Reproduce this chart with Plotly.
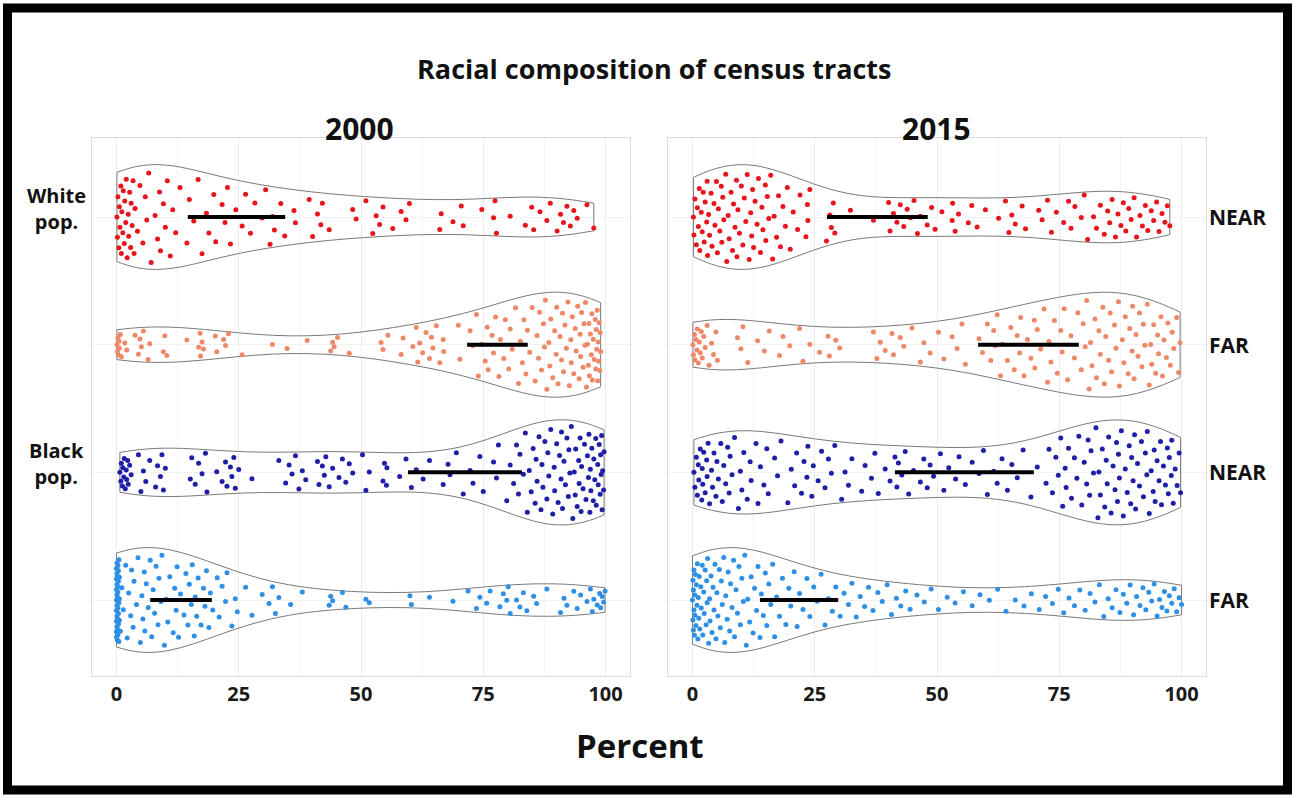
import numpy as np
import plotly.graph_objects as go

# ---------------- data (percent values) ----------------
groups = ["White NEAR", "White FAR", "Black NEAR", "Black FAR"]
years = ["2000", "2015"]

w00_near = [0.1, 0.2, 0.3, 0.5, 0.6, 0.7, 0.9, 1.0, 1.1, 1.3, 1.4, 1.6, 1.7, 1.9, 2.0, 2.2, 2.4, 2.5,
            2.7, 2.9, 3.0, 3.2, 3.4, 3.6, 3.8, 4.3, 4.8, 5.4, 5.9, 6.2, 6.6, 7.1, 7.9, 8.4, 8.8, 9.0,
            9.6, 10.0, 10.4, 11.0, 11.5, 12.1, 13.0, 14.4, 14.9, 15.8, 16.7, 17.5, 18.4, 18.9, 19.9,
            20.3, 21.6, 22.2, 22.7, 23.3, 24.4, 25.7, 26.4, 27.4, 28.3, 29.8, 30.5, 31.4, 31.9, 32.3,
            33.6, 34.4, 36.3, 36.6, 39.4, 40.1, 41.1, 41.8, 42.1, 43.5, 48.3, 49.0, 51.0, 52.4, 53.1,
            53.8, 54.5, 56.5, 58.2, 59.2, 59.9, 66.1, 66.4, 68.8, 70.5, 70.9, 74.7, 77.1, 77.4, 77.7,
            80.5, 83.6, 84.9, 85.3, 86.6, 88.0, 88.7, 90.1, 90.8, 91.4, 92.1, 92.8, 93.5, 94.2, 96.2,
            97.6]

w00_far = [0.1, 0.2, 0.3, 0.4, 0.5, 0.6, 0.8, 1.0, 1.7, 2.1, 3.8, 4.5, 4.8, 5.1, 5.5, 6.5, 6.8,
           9.6, 9.9, 10.3, 14.4, 16.8, 17.1, 17.2, 17.5, 17.8, 20.2, 20.5, 21.9, 22.3, 22.9, 25.7,
           31.9, 34.9, 39.0, 43.8, 44.2, 44.5, 45.2, 47.6, 54.1, 54.5, 55.5, 58.2, 58.6, 60.6, 61.3,
           61.6, 62.0, 62.6, 63.3, 64.0, 64.4, 64.7, 65.4, 66.1, 66.8, 66.9, 69.9, 70.2, 72.3, 72.9,
           73.6, 74.0, 74.7, 75.4, 75.8, 76.0, 76.8, 77.1, 77.5, 78.2, 78.5, 79.2, 79.5, 80.2, 80.5,
           80.9, 81.6, 82.2, 82.6, 83.0, 83.3, 83.7, 84.0, 84.5, 85.0, 85.6, 86.0, 86.3, 86.5, 86.9,
           87.3, 87.5, 87.7, 88.0, 88.4, 88.6, 88.8, 89.2, 89.6, 89.9, 90.0, 90.3, 90.7, 91.0, 91.2,
           91.4, 91.7, 92.0, 92.3, 92.6, 92.9, 93.0, 93.2, 93.5, 93.8, 94.0, 94.3, 94.6, 94.8, 94.9,
           95.1, 95.4, 95.6, 95.8, 95.9, 96.1, 96.3, 96.5, 96.6, 96.7, 96.9, 97.1, 97.2, 97.3, 97.5,
           97.7, 97.9, 98.0, 98.1, 98.2, 98.3, 98.4, 98.5, 98.6, 98.7, 98.8, 98.9, 99.0]

b00_near = [0.7, 0.9, 1.0, 1.2, 1.3, 1.5, 1.6, 1.8, 2.0, 2.1, 2.3, 2.4, 2.7, 3.0, 4.5, 5.0, 5.5, 6.0,
            6.8, 8.0, 8.4, 9.0, 9.3, 9.6, 10.0, 15.1, 15.4, 16.1, 16.8, 17.5, 18.2, 18.5, 20.5, 21.6,
            22.3, 22.6, 23.3, 23.6, 24.0, 24.3, 25.0, 27.7, 33.2, 34.6, 35.3, 35.9, 36.6, 37.3, 38.0,
            38.7, 41.1, 41.4, 42.1, 42.5, 42.8, 43.5, 44.2, 45.5, 46.2, 46.9, 47.6, 48.3, 50.3, 51.0,
            51.7, 54.5, 54.8, 55.2, 55.3, 57.9, 59.2, 60.3, 61.3, 62.7, 64.0, 66.8, 67.8, 68.2, 69.5,
            70.9, 72.3, 72.9, 74.3, 75.0, 77.1, 77.7, 78.1, 79.8, 80.5, 81.2, 81.8, 82.2, 82.5, 83.2,
            83.6, 84.0, 84.4, 84.8, 85.2, 85.6, 85.8, 86.0, 86.4, 86.8, 87.0, 87.2, 87.6, 88.0, 88.2,
            88.4, 88.8, 89.2, 89.5, 89.6, 90.0, 90.3, 90.6, 90.9, 91.0, 91.2, 91.5, 91.8, 92.1, 92.4,
            92.5, 92.7, 93.0, 93.3, 93.6, 93.8, 93.9, 94.2, 94.5, 94.6, 94.8, 95.0, 95.1, 95.4, 95.7,
            96.0, 96.3, 96.5, 96.6, 96.8, 96.9, 97.0, 97.2, 97.5, 97.6, 97.8, 98.0, 98.1, 98.4, 98.5,
            98.7, 98.9, 99.0, 99.1, 99.2, 99.3, 99.4, 99.6, 99.7]

b00_far = [0.0, 0.0, 0.0, 0.0, 0.0, 0.0, 0.0, 0.0, 0.1, 0.1, 0.1, 0.1, 0.1, 0.1, 0.1, 0.2, 0.2, 0.2,
           0.2, 0.2, 0.3, 0.3, 0.3, 0.3, 0.3, 0.4, 0.4, 0.4, 0.4, 0.5, 0.5, 0.5, 0.6, 0.6, 0.6,
           0.8, 1.1, 1.4, 1.9, 2.2, 2.5, 2.9, 3.1, 3.4, 3.6, 4.1, 4.4, 4.9, 5.2, 5.4, 5.7, 5.8, 6.1,
           6.5, 6.9, 7.2, 7.5, 7.8, 8.1, 8.5, 8.7, 9.1, 9.3, 9.8, 10.2, 10.5, 10.9, 11.6, 11.9, 12.2,
           12.4, 12.7, 13.1, 13.8, 14.2, 14.6, 14.9, 15.3, 15.5, 15.9, 16.1, 16.4, 16.7, 17.3, 17.8,
           18.1, 18.4, 18.9, 19.2, 19.7, 20.6, 21.0, 21.6, 22.3, 22.6, 23.6, 24.3, 24.7, 26.4, 27.7,
           29.8, 31.2, 31.9, 32.5, 33.2, 35.6, 38.0, 43.5, 43.8, 44.2, 46.2, 46.9, 51.0, 51.7, 60.0,
           60.3, 64.0, 68.8, 71.9, 73.6, 74.3, 75.7, 76.4, 78.4, 79.1, 79.8, 80.1, 80.5, 81.8, 82.5,
           83.2, 83.9, 85.3, 85.9, 88.0, 90.8, 91.5, 92.1, 93.5, 94.2, 94.9, 96.2, 96.9, 97.3, 97.6,
           98.3, 98.8, 99.0, 99.3, 99.6, 99.9]

w15_near = [0.2, 0.3, 0.5, 0.8, 1.0, 1.2, 1.4, 1.5, 1.8, 2.0, 2.2, 2.4, 2.6, 2.9, 3.0, 3.1, 3.3, 3.5,
            3.8, 4.0, 4.4, 4.6, 4.9, 5.1, 5.3, 5.6, 5.9, 6.0, 6.2, 6.4, 6.8, 7.0, 7.3, 7.5, 7.9, 8.2,
            8.4, 8.7, 9.0, 9.1, 9.3, 9.6, 10.0, 10.3, 10.6, 10.9, 11.2, 11.6, 11.9, 12.1, 12.3, 12.5,
            12.8, 13.2, 13.5, 13.9, 14.2, 14.4, 14.9, 15.0, 15.3, 15.6, 16.0, 16.4, 16.7, 17.2, 17.6,
            18.0, 18.5, 19.0, 19.4, 20.0, 20.6, 21.5, 22.0, 23.2, 23.5, 23.6, 24.0, 27.4, 28.1, 28.4,
            28.8, 29.1, 32.3, 37.0, 40.1, 40.4, 41.1, 41.8, 42.5, 43.2, 43.9, 44.6, 45.3, 46.0, 46.6,
            48.0, 48.9, 49.6, 51.0, 53.1, 53.2, 53.7, 54.4, 56.4, 57.1, 58.2, 59.9, 62.6, 64.0, 64.7,
            65.3, 66.0, 67.4, 68.1, 70.8, 71.5, 72.6, 73.4, 74.4, 75.9, 76.9, 77.4, 78.2, 79.5, 80.1,
            80.8, 82.0, 82.6, 83.4, 84.2, 84.9, 85.3, 85.8, 86.5, 87.0, 87.6, 88.1, 88.6, 89.2, 89.7,
            90.3, 90.8, 91.5, 92.0, 92.6, 93.1, 93.8, 94.3, 94.9, 95.4, 96.0, 96.6, 97.1, 97.6]

w15_far = [0.1, 0.2, 0.4, 0.5, 0.7, 0.9, 1.0, 1.2, 1.4, 1.6, 1.8, 2.0, 2.3, 2.6, 3.0, 3.4, 3.9, 4.3,
           4.8, 5.1, 9.2, 9.9, 10.3, 11.3, 13.3, 14.7, 15.7, 17.8, 18.5, 19.9, 21.9, 22.6, 24.0, 26.0,
           27.7, 28.0, 29.3, 30.1, 37.0, 37.7, 38.4, 39.4, 40.8, 41.1, 42.5, 43.2, 44.9, 46.6, 47.3,
           48.6, 50.3, 51.4, 53.1, 54.1, 55.1, 55.8, 58.6, 59.3, 60.3, 61.0, 61.6, 61.9, 62.3, 63.0,
           63.4, 64.4, 65.1, 65.8, 66.4, 66.9, 67.1, 67.8, 68.5, 69.2, 69.9, 70.0, 70.5, 71.2, 71.9,
           72.6, 72.9, 73.3, 74.0, 74.6, 75.3, 75.6, 76.0, 76.7, 77.4, 78.1, 78.8, 79.5, 79.9, 80.3,
           80.6, 81.1, 81.4, 81.7, 82.3, 82.6, 83.1, 83.4, 83.9, 84.2, 84.5, 85.1, 85.4, 85.7, 86.3,
           86.6, 87.1, 87.3, 87.9, 88.2, 88.5, 89.1, 89.4, 89.9, 90.0, 90.3, 90.7, 91.1, 91.4, 91.9,
           92.2, 92.5, 93.0, 93.4, 93.7, 93.9, 94.3, 94.7, 95.1, 95.3, 95.8, 96.1, 96.4, 96.9, 97.2,
           97.7, 98.1, 98.4, 99.0, 99.4, 99.7]

b15_near = [0.3, 0.5, 0.8, 1.0, 1.2, 1.3, 1.6, 1.9, 2.0, 2.1, 2.3, 2.6, 2.9, 3.0, 3.2, 3.5, 3.9, 4.1,
            4.4, 4.8, 5.0, 5.3, 5.8, 6.1, 6.4, 6.8, 7.2, 7.5, 7.7, 8.1, 8.6, 9.4, 9.8, 10.1, 10.5,
            11.2, 11.8, 12.0, 13.0, 13.4, 13.9, 14.6, 15.2, 15.5, 16.8, 17.4, 18.1, 19.5, 20.2, 20.9,
            21.3, 22.3, 22.8, 23.4, 23.6, 24.4, 24.7, 25.7, 26.4, 27.1, 27.8, 28.4, 29.1, 30.5, 31.2,
            31.9, 32.6, 34.6, 35.3, 36.6, 37.3, 38.0, 39.4, 40.4, 41.4, 41.8, 42.1, 42.8, 43.5, 44.2,
            45.2, 46.6, 47.3, 48.0, 48.6, 49.3, 50.7, 51.4, 52.4, 53.8, 54.5, 55.8, 57.2, 58.6, 59.5,
            60.3, 61.6, 62.3, 63.3, 64.4, 65.3, 66.4, 67.6, 69.2, 70.5, 72.3, 72.9, 73.6, 74.3, 74.8,
            75.3, 75.7, 76.2, 76.4, 76.9, 77.5, 78.1, 78.6, 79.0, 79.6, 80.1, 80.6, 80.9, 81.2, 81.5,
            82.0, 82.5, 82.9, 83.1, 83.4, 83.8, 84.3, 84.6, 84.8, 85.1, 85.6, 86.0, 86.4, 86.7, 86.9,
            87.1, 87.3, 87.7, 88.1, 88.5, 88.9, 89.3, 89.6, 89.8, 90.1, 90.4, 90.6, 91.0, 91.4, 91.8,
            92.2, 92.6, 92.9, 93.0, 93.4, 93.8, 94.2, 94.4, 94.6, 95.0, 95.4, 95.7, 95.9, 96.3, 96.7,
            97.1, 97.3, 97.5, 97.9, 98.0, 98.3, 98.7, 99.1, 99.5, 99.8]

b15_far = [0.0, 0.1, 0.1, 0.2, 0.2, 0.3, 0.3, 0.4, 0.5, 0.5, 0.6, 0.7, 0.8, 0.9, 1.0, 1.1, 1.2, 1.3,
           1.4, 1.5, 1.7, 1.8, 2.0, 2.1, 2.3, 2.4, 2.6, 2.8, 2.9, 3.0, 3.1, 3.3, 3.5, 3.6, 3.8, 4.0,
           4.2, 4.4, 4.6, 4.8, 5.0, 5.2, 5.5, 5.7, 5.9, 6.1, 6.4, 6.6, 6.8, 7.1, 7.3, 7.6, 7.8, 8.1,
           8.4, 8.6, 8.9, 9.2, 9.5, 9.8, 10.1, 10.4, 10.7, 11.0, 11.3, 11.7, 12.0, 12.4, 12.7, 13.1,
           13.4, 13.8, 14.1, 14.5, 14.9, 15.2, 15.6, 16.0, 16.4, 16.8, 17.2, 17.8, 18.4, 19.1, 19.7,
           20.1, 20.8, 21.4, 21.9, 22.6, 23.4, 24.0, 24.8, 25.5, 26.3, 27.1, 27.8, 28.6, 29.3, 30.2,
           31.0, 31.9, 32.6, 33.5, 34.3, 35.2, 36.0, 36.9, 37.9, 38.8, 39.8, 40.7, 41.7, 42.6, 43.6,
           44.5, 45.9, 47.4, 48.8, 50.3, 52.1, 53.7, 55.4, 57.2, 58.8, 60.7, 62.4, 64.1, 66.0, 67.8,
           69.3, 70.9, 72.2, 73.6, 74.8, 75.9, 77.0, 78.1, 79.2, 80.3, 81.3, 82.3, 83.2, 84.1, 85.0,
           85.8, 86.6, 87.4, 88.1, 88.8, 89.5, 90.2, 90.8, 91.5, 92.1, 92.7, 93.3, 93.9, 94.4, 95.0,
           95.5, 96.0, 96.5, 97.0, 97.5, 98.0, 98.5, 99.0, 99.5, 100.0]

values = {
    "2000": [w00_near, w00_far, b00_near, b00_far],
    "2015": [w15_near, w15_far, b15_near, b15_far],
}

# summary bar (black segment) ends
bar_lo = {"2000": [14.6, 71.7, 59.6, 6.9], "2015": [27.5, 58.4, 41.4, 13.8]}
bar_hi = {"2000": [34.5, 84.1, 82.9, 19.5], "2015": [48.1, 79.0, 69.8, 29.8]}

x_ticks = [0, 25, 50, 75, 100]
right_labels = ["NEAR", "FAR", "NEAR", "FAR"]
left_labels = {"White NEAR": "White<br>pop.", "Black NEAR": "Black<br>pop."}

# ---------------- styles ----------------
colors = ["#e8141c", "#f08868", "#1e1ea8", "#2e8fe6"]
FONT = "Open Sans"
W, H = 1294, 798
VIOLIN_W = 0.82
n_groups = len(groups)
row_of = {g: n_groups - 1 - i for i, g in enumerate(groups)}   # top row = first group


def bw_nrd0(v):
    v = np.asarray(v, dtype=float)
    sd = np.std(v, ddof=1)
    iqr = np.percentile(v, 75) - np.percentile(v, 25)
    lo = min(sd, iqr / 1.34) if iqr > 0 else sd
    return 0.9 * lo * len(v) ** (-0.2)


def kde(v, pts, h):
    v = np.asarray(v, dtype=float)
    z = (np.asarray(pts)[:, None] - v[None, :]) / h
    return np.exp(-0.5 * z * z).sum(axis=1) / (len(v) * h * np.sqrt(2 * np.pi))


def van_der_corput(k, base=2):
    q, denom = 0.0, 1.0
    while k:
        k, r = divmod(k, base)
        denom *= base
        q += r / denom
    return q


def quasirandom_offsets(v, h):
    """beeswarm 'quasirandom' layout: offsets scaled by the violin density."""
    v = np.asarray(v, dtype=float)
    grid = np.linspace(v.min(), v.max(), 512)
    dmax = kde(v, grid, h).max()
    d = kde(v, v, h) / dmax
    order = np.argsort(v, kind="stable")
    u = np.empty(len(v))
    for rank, idx in enumerate(order):
        u[idx] = van_der_corput(rank + 1)
    return (2 * u - 1) * d * (VIOLIN_W / 2) * 0.9


fig = go.Figure()
for k, yr in enumerate(years):
    xa = "x" if k == 0 else "x2"
    ya = "y" if k == 0 else "y2"
    for g, vals, col in zip(groups, values[yr], colors):
        h = bw_nrd0(vals)
        r = row_of[g]
        fig.add_trace(go.Violin(
            x=vals, y0=r, orientation="h", xaxis=xa, yaxis=ya,
            points=False, spanmode="hard", scalemode="width", width=VIOLIN_W,
            bandwidth=h, fillcolor="rgba(255,255,255,0)",
            line=dict(color="#7a7a7a", width=1),
            showlegend=False, hoverinfo="skip",
        ))
        fig.add_trace(go.Scatter(
            x=vals, y=r + quasirandom_offsets(vals, h), mode="markers",
            xaxis=xa, yaxis=ya,
            marker=dict(color=col, size=5, line=dict(width=0)),
            showlegend=False, hoverinfo="x",
        ))
    for g, lo, hi in zip(groups, bar_lo[yr], bar_hi[yr]):
        r = row_of[g]
        fig.add_trace(go.Scatter(
            x=[lo, hi], y=[r, r], mode="lines", xaxis=xa, yaxis=ya,
            line=dict(color="black", width=4), showlegend=False, hoverinfo="skip",
        ))


def px_x(p):
    return p / W


def px_y(p):
    return 1 - p / H


xdom1 = [px_x(92), px_x(630)]
xdom2 = [px_x(668), px_x(1206)]
ydom = [px_y(676), px_y(138)]

xcommon = dict(
    range=[-5, 105], tickmode="array", tickvals=x_ticks,
    ticktext=[f"<b>{t}</b>" for t in x_ticks],
    tickfont=dict(family=FONT, size=20, color="#1a1a1a"),
    showgrid=True, gridcolor="#ebebeb", gridwidth=1, zeroline=False,
    minor=dict(tickvals=[12.5, 37.5, 62.5, 87.5], showgrid=True, gridcolor="#f4f4f4", ticklen=0),
    showline=True, linecolor="#dcdcdc", linewidth=1, mirror=True, ticks="",
    fixedrange=True,
)
ycommon = dict(
    range=[-0.595, 3.619], tickmode="array", tickvals=list(range(n_groups)),
    showticklabels=False, ticks="",
    showgrid=True, gridcolor="#f1f1f1", zeroline=False,
    showline=True, linecolor="#dcdcdc", linewidth=1, mirror=True,
    fixedrange=True,
)


def label(text, x, y, size, xref="paper", yref="paper", **kw):
    d = dict(text=f"<b>{text}</b>", x=x, y=y, xref=xref, yref=yref, showarrow=False,
             xanchor="center", yanchor="middle", font=dict(family=FONT, size=size, color="#111"))
    d.update(kw)
    return d


annotations = [
    label("Racial composition of census tracts", px_x(654), px_y(68), 27),
    label("2000", px_x(359), px_y(129), 30),
    label("2015", px_x(936), px_y(129), 30),
    label("Percent", px_x(640), px_y(745), 33),
]
for g, txt in left_labels.items():
    annotations.append(label(txt, px_x(56), row_of[g], 20, yref="y", yshift=9))
for g, txt in zip(groups, right_labels):
    annotations.append(label(txt, px_x(1207), row_of[g], 21, yref="y2", xanchor="left"))

fig.update_layout(
    width=W, height=H, margin=dict(l=0, r=0, t=0, b=0),
    paper_bgcolor="white", plot_bgcolor="white",
    violinmode="overlay", violingap=0,
    xaxis=dict(domain=xdom1, anchor="y", **xcommon),
    xaxis2=dict(domain=xdom2, anchor="y2", **xcommon),
    yaxis=dict(domain=ydom, anchor="x", **ycommon),
    yaxis2=dict(domain=ydom, anchor="x2", **ycommon),
    annotations=annotations,
    shapes=[dict(type="rect", xref="paper", yref="paper",
                 x0=px_x(7.5), x1=px_x(1287.5), y0=px_y(790), y1=px_y(8),
                 line=dict(color="black", width=9), fillcolor="rgba(0,0,0,0)")],
)

fig.write_html("out.html", config={"displayModeBar": False},
               post_script="document.body.style.margin='0px';document.body.style.overflow='hidden';")
